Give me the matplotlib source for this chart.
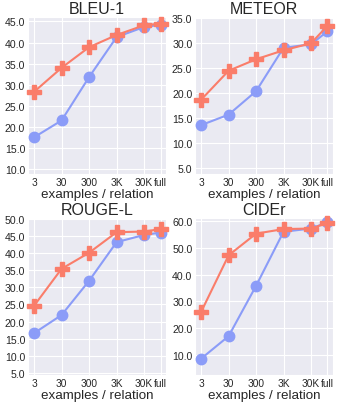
import numpy as np
import matplotlib
matplotlib.use("Agg")
import matplotlib.pyplot as plt
import seaborn as sns

sns.set_style("darkgrid")
plt.rcParams['font.family'] = ['Liberation Sans', 'DejaVu Sans']

x_labels = ["3", "30", "300", "3K", "30K", "full"]
x_pos = [0, 1, 2, 3, 4, 4.6]

metrics = ["BLEU-1", "METEOR", "ROUGE-L", "CIDEr"]

bleu_orange = [28.3, 34.0, 38.9, 41.8, 44.1, 44.5]
bleu_blue = [17.5, 21.5, 31.8, 41.3, 43.7, 44.2]
meteor_orange = [18.7, 24.5, 26.8, 28.6, 30.0, 33.5]
meteor_blue = [13.6, 15.7, 20.4, 29.1, 29.8, 32.4]
rouge_orange = [24.6, 35.4, 40.1, 46.1, 46.3, 47.0]
rouge_blue = [16.6, 21.9, 31.9, 43.2, 45.3, 46.0]
cider_orange = [26.1, 47.2, 55.3, 57.0, 57.2, 59.3]
cider_blue = [8.6, 17.0, 35.8, 56.0, 57.2, 59.5]

orange = [bleu_orange, meteor_orange, rouge_orange, cider_orange]
blue = [bleu_blue, meteor_blue, rouge_blue, cider_blue]
yticks = [np.arange(10, 46, 5), np.arange(5, 36, 5), np.arange(5, 51, 5), np.arange(10, 61, 10)]
ylims = [(8.8, 46.1), (3.8, 35.3), (4.4, 50.3), (2.5, 61.2)]

fig = plt.figure(figsize=(3.37, 4.06), dpi=100)
boxes = [
    [0.083, 0.569, 0.410, 0.387],
    [0.579, 0.569, 0.409, 0.387],
    [0.083, 0.074, 0.410, 0.387],
    [0.579, 0.074, 0.409, 0.387],
]

for i in range(4):
    ax = fig.add_axes(boxes[i])
    ax.plot(x_pos, blue[i], color="#8B9CF8", marker="o", markersize=7.5,
            linewidth=1.5, clip_on=False, zorder=3)
    ax.plot(x_pos, orange[i], color="#FA7D6A", marker="P", markersize=10,
            linewidth=1.5, clip_on=False, zorder=4)
    ax.set_xticks(x_pos)
    ax.set_xticklabels(x_labels, fontsize=7.3)
    ax.set_yticks(yticks[i])
    ax.set_yticklabels(["%.1f" % v for v in yticks[i]], fontsize=7.6)
    ax.set_xlim(-0.22, 4.8)
    ax.set_ylim(*ylims[i])
    ax.tick_params(axis='both', pad=2, length=0)
    ax.set_title(metrics[i], fontsize=11.5, pad=3)
    ax.set_xlabel("examples / relation", fontsize=9.6, labelpad=1)

plt.savefig("out.png", dpi=100)
